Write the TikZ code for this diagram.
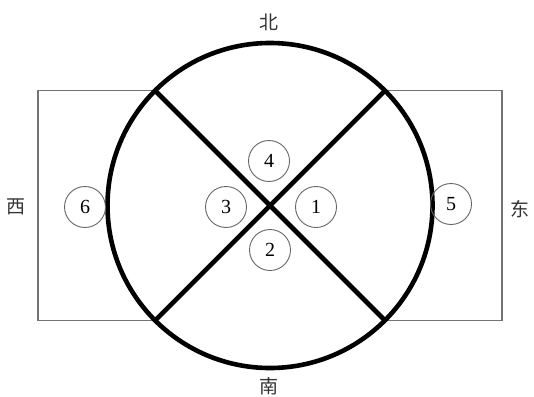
\documentclass[tikz,border=0pt]{standalone}
\usepackage{fontspec}
\setmainfont{Liberation Serif}
\newfontfamily\cjk{Noto Sans CJK SC}

\begin{document}
\begin{tikzpicture}[x=1pt, y=-1pt,
    wall/.style={line width=1.3pt, draw=black!55},
    heavy/.style={line width=4.6pt},
    num/.style={draw=black!60, line width=0.9pt, circle, minimum size=41pt, inner sep=0pt, font=\fontsize{20}{20}\selectfont},
    dir/.style={font=\cjk\fontsize{19}{19}\selectfont, text=black!80}]
    \useasboundingbox (0,0) rectangle (534,396);

    % circle and its four points at 45 degrees
    \coordinate (O) at (270, 205.5);
    \coordinate (NE) at (385, 90.5);
    \coordinate (NW) at (155, 90.5);
    \coordinate (SW) at (155, 320.5);
    \coordinate (SE) at (385, 320.5);

    % outer frame, left and right parts
    \coordinate (L1) at (38, 90.5);
    \coordinate (L2) at (38, 320.5);
    \coordinate (R1) at (502, 90.5);
    \coordinate (R2) at (502, 320.5);
    \draw[wall] (NW) -- (L1) -- (L2) -- (SW);
    \draw[wall] (NE) -- (R1) -- (R2) -- (SE);

    \draw[heavy] (O) circle (162.5);
    \draw[heavy] (NW) -- (SE);
    \draw[heavy] (NE) -- (SW);

    % numbered spots
    \node [num] (n1) at (316, 207) {1};
    \node [num] (n2) at (270, 250) {2};
    \node [num] (n3) at (226, 207) {3};
    \node [num] (n4) at (269, 161) {4};
    \node [num] (n5) at (451, 204) {5};
    \node [num] (n6) at (85, 207) {6};

    % directions
    \node [dir] (north) at (269, 22) {北};
    \node [dir] (south) at (269, 386) {南};
    \node [dir] (west) at (16, 207) {西};
    \node [dir] (east) at (520, 209) {东};
\end{tikzpicture}
\end{document}
